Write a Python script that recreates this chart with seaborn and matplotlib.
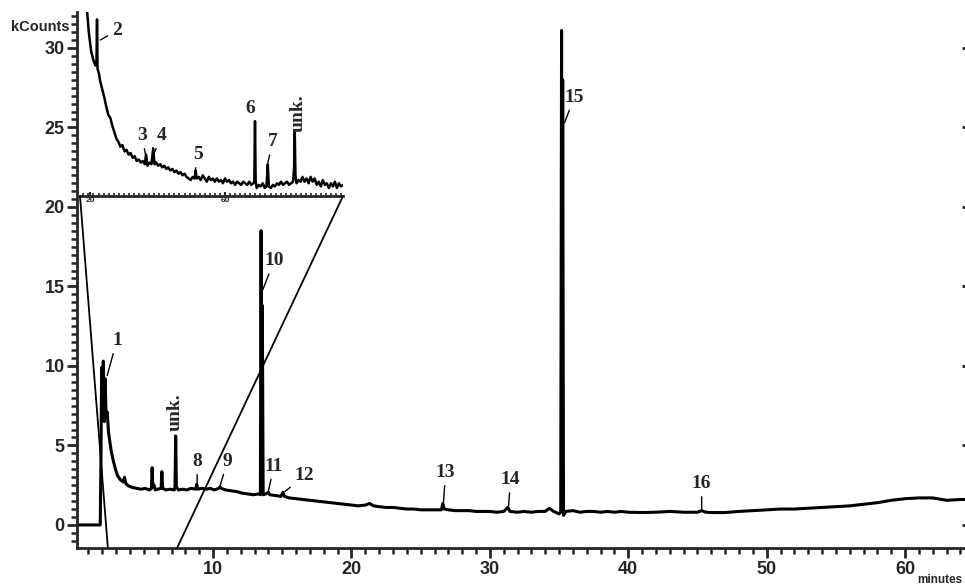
import matplotlib
matplotlib.use("Agg")
import matplotlib.pyplot as plt
from matplotlib.patches import ConnectionPatch
from matplotlib.ticker import MultipleLocator, FixedLocator, NullLocator
import pandas as pd
import seaborn as sns

# main trace (minutes, kCounts)
main_minutes = [
    0.2, 1.85, 1.9, 1.95, 2.0, 2.07, 2.14, 2.2, 2.27, 2.35,
    2.45, 2.55, 2.65, 2.8, 2.95, 3.1, 3.3, 3.5, 3.6, 3.7,
    3.9, 4.2, 4.5, 4.8, 5.1, 5.4, 5.55, 5.6, 5.65, 5.75,
    5.82, 6.0, 6.25, 6.3, 6.36, 6.6, 6.9, 7.2, 7.25, 7.3,
    7.35, 7.5, 7.8, 8.1, 8.4, 8.75, 8.82, 8.9, 9.2, 9.5,
    9.8, 10.1, 10.4, 10.5, 10.6, 10.9, 11.3, 11.7, 12.1, 12.5,
    12.9, 13.3, 13.42, 13.47, 13.52, 13.56, 13.62, 13.8, 14.0, 14.1,
    14.5, 14.9, 15.05, 15.15, 15.5, 16.0, 16.5, 17.0, 17.5, 18.0,
    18.5, 19.0, 19.5, 20.0, 20.5, 21.0, 21.3, 21.6, 22.0, 22.5,
    23.0, 23.5, 24.0, 24.5, 25.0, 25.5, 26.0, 26.5, 26.6, 26.7,
    27.0, 27.5, 28.0, 28.5, 29.0, 29.5, 30.0, 30.5, 31.0, 31.3,
    31.45, 32.0, 32.5, 33.0, 33.5, 34.0, 34.3, 34.6, 35.0, 35.12,
    35.18, 35.22, 35.26, 35.32, 35.5, 36.0, 36.5, 37.0, 37.5, 38.0,
    38.5, 39.0, 39.5, 40.0, 41.0, 42.0, 43.0, 44.0, 45.0, 45.3,
    45.6, 46.0, 47.0, 48.0, 49.0, 50.0, 51.0, 52.0, 53.0, 54.0,
    55.0, 56.0, 57.0, 58.0, 59.0, 60.0, 61.0, 62.0, 63.0, 64.0, 64.5,
]
main_kcounts = [
    0.0, 0.0, 4.0, 9.9, 7.5, 10.3, 6.5, 9.2, 6.9, 7.1,
    5.8, 5.2, 4.6, 4.0, 3.5, 3.1, 2.85, 2.7, 3.0, 2.6,
    2.45, 2.35, 2.3, 2.25, 2.3, 2.2, 2.3, 3.6, 2.4, 2.5,
    2.2, 2.25, 2.3, 3.35, 2.3, 2.2, 2.25, 2.2, 2.4, 5.6,
    2.4, 2.2, 2.25, 2.2, 2.3, 2.25, 2.55, 2.25, 2.3, 2.25,
    2.3, 2.2, 2.3, 2.4, 2.3, 2.2, 2.15, 2.1, 2.0, 1.95,
    1.9, 1.95, 1.9, 18.5, 2.0, 13.8, 1.9, 1.95, 2.05, 1.9,
    1.85, 1.8, 2.05, 1.8, 1.7, 1.65, 1.6, 1.55, 1.5, 1.45,
    1.4, 1.35, 1.3, 1.25, 1.2, 1.25, 1.35, 1.2, 1.15, 1.1,
    1.1, 1.05, 1.0, 1.0, 0.95, 0.95, 0.95, 0.95, 1.35, 1.0,
    0.95, 0.9, 0.9, 0.9, 0.85, 0.85, 0.85, 0.8, 0.85, 1.1,
    0.85, 0.8, 0.85, 0.8, 0.85, 0.85, 1.05, 0.85, 0.7, 0.8,
    31.1, 1.5, 28.0, 0.6, 0.85, 0.9, 0.8, 0.85, 0.85, 0.8,
    0.85, 0.8, 0.85, 0.8, 0.78, 0.8, 0.85, 0.8, 0.8, 0.9,
    0.8, 0.78, 0.78, 0.85, 0.9, 0.95, 1.0, 1.0, 1.05, 1.1,
    1.15, 1.2, 1.3, 1.4, 1.55, 1.65, 1.7, 1.7, 1.55, 1.6, 1.6,
]

# expanded view shown in the upper-left box (its own x scale)
inset_x = [
    19.0, 19.6, 20.3, 21.0, 21.6, 21.9, 22.05, 22.2, 22.6, 23.0,
    23.6, 24.2, 24.8, 25.4, 26.0, 26.6, 27.2, 27.8, 28.4, 29.0,
    29.6, 30.2, 30.8, 31.4, 32.0, 32.6, 33.2, 33.8, 34.4, 35.0,
    35.6, 36.2, 36.6, 37.0, 37.6, 38.2, 38.7, 39.1, 39.6, 40.2,
    40.8, 41.4, 42.0, 42.6, 43.2, 43.8, 44.4, 45.0, 45.6, 46.2,
    46.8, 47.4, 48.0, 48.6, 49.2, 49.8, 50.4, 51.0, 51.3, 51.6,
    52.2, 52.8, 53.4, 54.0, 54.6, 55.2, 55.8, 56.4, 57.0, 57.6,
    58.2, 58.8, 59.4, 60.0, 60.6, 61.2, 61.8, 62.4, 63.0, 63.6,
    64.2, 64.8, 65.4, 66.0, 66.6, 67.2, 67.8, 68.4, 68.7, 68.9,
    69.1, 69.4, 70.0, 70.6, 71.2, 71.8, 72.3, 72.7, 73.0, 73.6,
    74.2, 74.8, 75.4, 76.0, 76.6, 77.2, 77.8, 78.4, 79.0, 79.6,
    80.2, 80.5, 80.7, 80.9, 81.2, 81.8, 82.4, 83.0, 83.6, 84.2,
    84.8, 85.4, 86.0, 86.6, 87.2, 87.8, 88.4, 89.0, 89.6, 90.2,
    90.8, 91.4, 92.0, 92.6, 93.2, 93.8, 94.4, 95.0,
]
inset_kcounts = [
    32.6, 31.0, 29.8, 29.2, 28.9, 29.3, 31.8, 28.7, 28.4, 27.9,
    27.4, 26.9, 26.3, 25.8, 25.6, 25.1, 24.7, 24.3, 24.1, 23.8,
    23.9, 23.5, 23.6, 23.3, 23.4, 23.1, 23.2, 22.9, 23.0, 22.8,
    22.9, 22.7, 23.3, 22.6, 22.8, 22.7, 23.7, 22.7, 22.8, 22.6,
    22.7, 22.5, 22.6, 22.4, 22.5, 22.3, 22.4, 22.2, 22.3, 22.1,
    22.2, 22.0, 22.1, 21.9, 21.8, 21.7, 21.9, 21.8, 22.3, 21.8,
    21.9, 21.7, 22.0, 21.8, 21.6, 21.9, 21.7, 21.8, 21.6, 21.8,
    21.6, 21.7, 21.5, 21.8, 21.6, 21.7, 21.5, 21.6, 21.4, 21.6,
    21.5, 21.4, 21.6, 21.5, 21.4, 21.6, 21.4, 21.5, 21.6, 25.4,
    21.6, 21.2, 21.4, 21.3, 21.5, 21.2, 21.3, 22.7, 21.3, 21.2,
    21.4, 21.3, 21.5, 21.4, 21.6, 21.4, 21.5, 21.6, 21.4, 21.5,
    21.6, 22.5, 24.7, 22.0, 21.5, 21.7, 21.6, 21.9, 21.6, 21.8,
    21.5, 21.9, 21.6, 21.8, 21.4, 21.6, 21.3, 21.7, 21.4, 21.5,
    21.2, 21.5, 21.3, 21.6, 21.2, 21.5, 21.3, 21.4,
]

# time window (minutes) that the box expands
zoom_from = 2.4
zoom_to = 7.4

# peak labels: text, label spot, leader end
main_labels = [
    ("1", (3.05, 11.6), (2.35, 9.4)),
    ("10", (14.4, 16.6), (13.6, 14.8)),
    ("8", (8.85, 4.0), (8.85, 2.6)),
    ("9", (11.05, 4.0), (10.5, 2.45)),
    ("11", (14.4, 3.7), (14.0, 2.15)),
    ("12", (16.6, 3.1), (15.2, 2.1)),
    ("13", (26.8, 3.3), (26.65, 1.45)),
    ("14", (31.5, 2.85), (31.35, 1.2)),
    ("15", (36.1, 26.9), (35.4, 25.3)),
    ("16", (45.3, 2.6), (45.3, 0.95)),
]
inset_labels = [
    ("2", (28.0, 31.1), (23.0, 30.5)),
    ("3", (35.4, 24.5), (36.6, 23.1)),
    ("4", (41.3, 24.5), (39.0, 23.4)),
    ("5", (52.0, 23.3), (51.1, 22.2)),
    ("6", (67.4, 26.2), (68.9, 25.3)),
    ("7", (74.2, 24.1), (72.7, 22.8)),
]

sns.set_style("ticks")
plt.rcParams["font.family"] = ["Liberation Sans", "DejaVu Sans"]
plt.rcParams["font.weight"] = "bold"

main_df = pd.DataFrame({"minutes": main_minutes, "kCounts": main_kcounts})
inset_df = pd.DataFrame({"x": inset_x, "kCounts": inset_kcounts})

fig = plt.figure(figsize=(9.65, 5.87), dpi=100)
ax = fig.add_axes([77 / 965, 39 / 587, 889 / 965, 536 / 587])
sns.lineplot(data=main_df, x="minutes", y="kCounts", ax=ax, color="black",
             lw=2.2, estimator=None, sort=False)
ax.set_xlim(0.17, 64.4)
ax.set_ylim(-1.45, 32.26)

for side in ["top", "right"]:
    ax.spines[side].set_visible(False)
for side in ["left", "bottom"]:
    ax.spines[side].set_linewidth(2)

ax.xaxis.set_major_locator(MultipleLocator(10))
ax.xaxis.set_minor_locator(MultipleLocator(1))
ax.yaxis.set_major_locator(MultipleLocator(5))
ax.yaxis.set_minor_locator(MultipleLocator(0.5))
ax.tick_params(which="major", direction="out", length=7, width=2, labelsize=13, pad=2)
ax.tick_params(which="minor", direction="out", length=4, width=1.8)
ax.set_xticks([10, 20, 30, 40, 50, 60])

right = ax.secondary_yaxis("right")
right.yaxis.set_major_locator(MultipleLocator(5))
right.yaxis.set_minor_locator(NullLocator())
right.tick_params(direction="in", length=3, width=2, labelright=False)
right.spines["right"].set_visible(False)

ax.set_xlabel("minutes", fontsize=8.5, fontweight="bold", ha="left", va="center")
ax.xaxis.set_label_coords(0.945, -0.0606)
ax.set_ylabel("kCounts", fontsize=10.5, fontweight="bold", rotation=0, ha="right", va="center")
ax.yaxis.set_label_coords(-0.008, 0.972)

serif = dict(family=["Liberation Serif", "DejaVu Serif"], fontsize=14, fontweight="bold")
lead = dict(arrowstyle="-", color="black", lw=1.0, shrinkA=1, shrinkB=0)
for name, spot, tip in main_labels:
    ax.annotate(name, xy=tip, xytext=spot, ha="center", va="center",
                arrowprops=lead, **serif)
ax.text(7.25, 7.1, "unk.", rotation=90, ha="center", va="center", **serif)

# expanded box
axin = fig.add_axes([80 / 965, 391 / 587, 263 / 965, 184 / 587])
axin.patch.set_alpha(0)
sns.lineplot(data=inset_df, x="x", y="kCounts", ax=axin, color="black",
             lw=1.8, estimator=None, sort=False)
axin.set_xlim(17, 95)
axin.set_ylim(20.7, 32.26)
for side in ["top", "right", "left"]:
    axin.spines[side].set_visible(False)
axin.spines["bottom"].set_linewidth(2)
axin.set_yticks([])
axin.set_xlabel("")
axin.set_ylabel("")
axin.xaxis.set_major_locator(FixedLocator([20, 60]))
axin.xaxis.set_minor_locator(MultipleLocator(1.5))
axin.tick_params(axis="x", which="major", direction="in", length=3, width=1.5,
                 labelsize=6, pad=1)
axin.tick_params(axis="x", which="minor", direction="in", length=2.5, width=1.2)

for name, spot, tip in inset_labels:
    axin.annotate(name, xy=tip, xytext=spot, ha="center", va="center",
                  arrowprops=lead, **serif)
axin.text(81.6, 25.9, "unk.", rotation=90, ha="center", va="center", **serif)

y_bottom = ax.get_ylim()[0]
for corner, minute in [((0, 0), zoom_from), ((1, 0), zoom_to)]:
    con = ConnectionPatch(xyA=corner, coordsA=axin.transAxes,
                          xyB=(minute, y_bottom), coordsB=ax.transData,
                          color="black", lw=1.3)
    fig.add_artist(con)

fig.savefig("out.png", dpi=100)
